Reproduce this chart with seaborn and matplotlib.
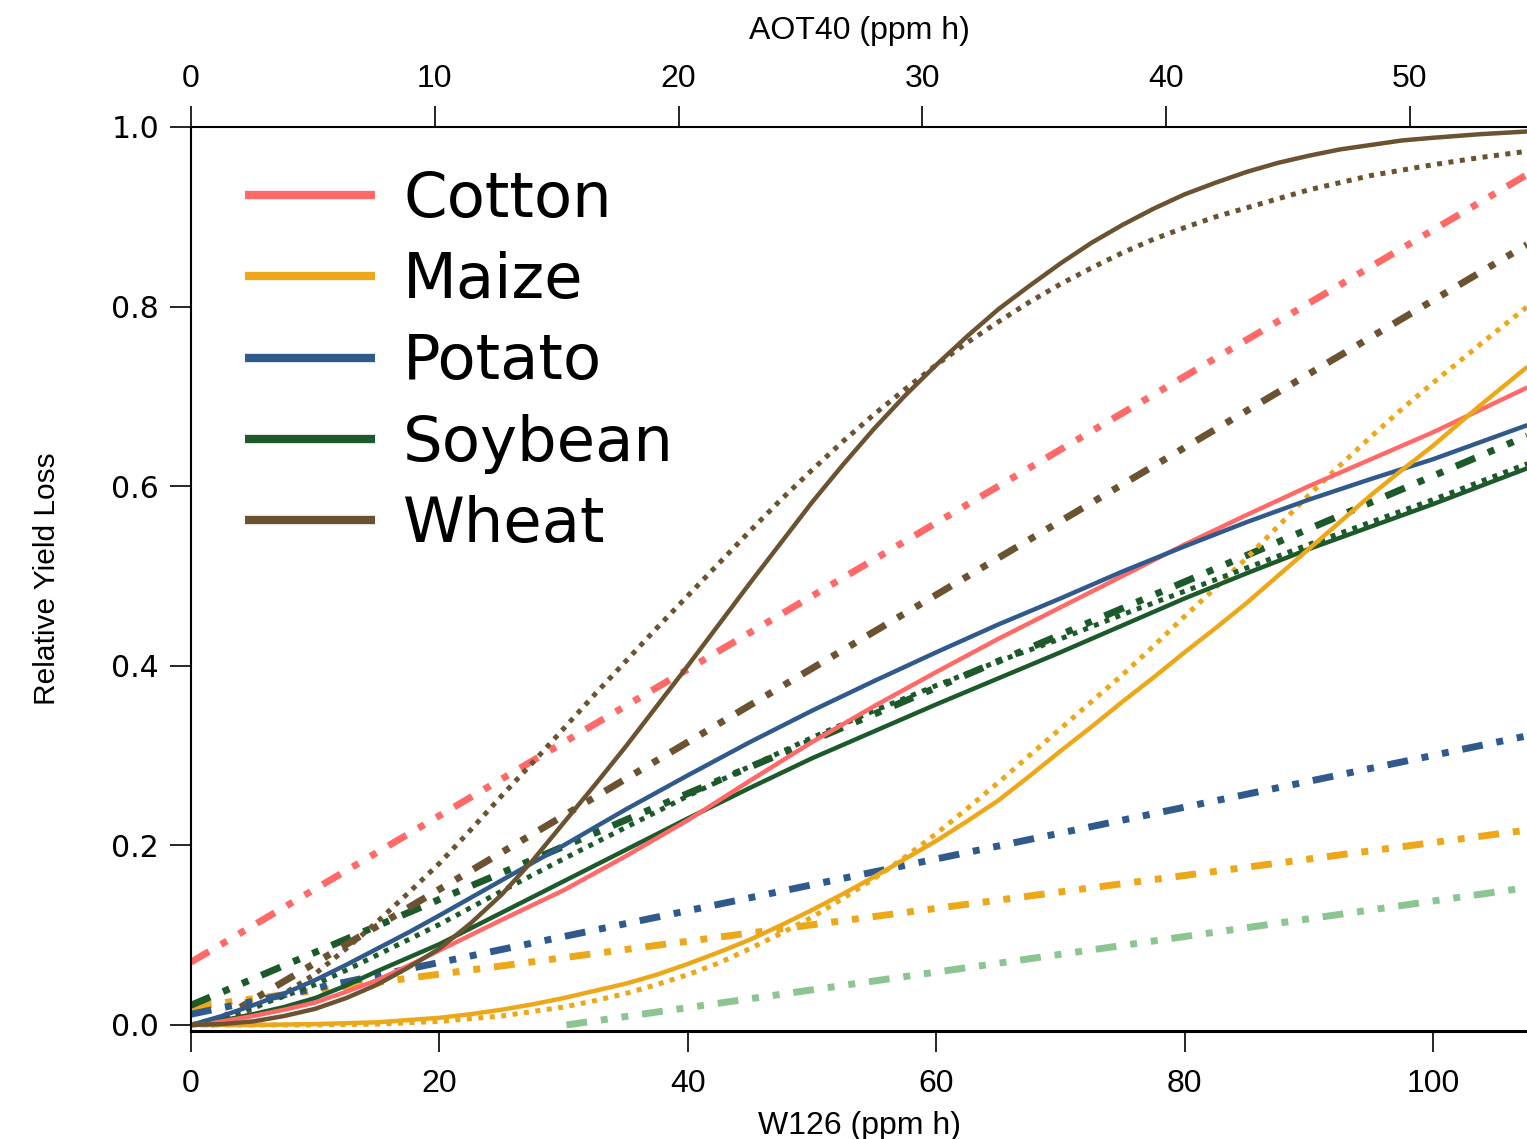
import matplotlib
matplotlib.use("Agg")
import matplotlib.pyplot as plt
from matplotlib.lines import Line2D
import seaborn as sns
import pandas as pd

sns.set_style("ticks")
plt.rcParams['font.family'] = ['DejaVu Sans']
for k in ["text.color", "axes.labelcolor", "xtick.color", "ytick.color", "axes.edgecolor"]:
    plt.rcParams[k] = "black"

# ---------------- data ----------------
crops = ["Cotton", "Maize", "Potato", "Soybean", "Wheat"]
colors = {"Cotton": "#FF6A69", "Maize": "#EDA81A", "Potato": "#2F5A8B",
          "Soybean": "#1D5A2B", "Wheat": "#6B5230", "Other": "#8DC592"}

# W126-based curves
wheat_w = [0, 2.5, 5, 7.5, 10, 12.5, 15, 17.5, 20, 22.5, 25, 27.5, 30, 32.5, 35, 37.5, 40, 42.5,
           45, 47.5, 50, 52.5, 55, 57.5, 60, 62.5, 65, 67.5, 70, 72.5, 75, 77.5, 80, 82.5, 85,
           87.5, 90, 92.5, 95, 97.5, 100, 103.8, 107.6]
wheat_solid = [0, 0.001, 0.004, 0.010, 0.018, 0.030, 0.045, 0.064, 0.085, 0.113, 0.145, 0.183,
               0.225, 0.267, 0.31, 0.355, 0.40, 0.446, 0.492, 0.537, 0.582, 0.624, 0.664, 0.701,
               0.735, 0.767, 0.797, 0.823, 0.848, 0.871, 0.891, 0.909, 0.925, 0.938, 0.95,
               0.96, 0.968, 0.975, 0.98, 0.985, 0.988, 0.992, 0.995]
wheat_dotted = [0, 0.005, 0.018, 0.035, 0.057, 0.085, 0.115, 0.147, 0.18, 0.217, 0.255, 0.292,
                0.33, 0.368, 0.405, 0.442, 0.478, 0.514, 0.55, 0.585, 0.618, 0.65, 0.68, 0.708,
                0.735, 0.76, 0.783, 0.805, 0.825, 0.843, 0.86, 0.875, 0.888, 0.9, 0.91, 0.92,
                0.93, 0.938, 0.946, 0.952, 0.958, 0.966, 0.973]

maize_w = [0, 5, 10, 15, 20, 22.5, 25, 27.5, 30, 32.5, 35, 37.5, 40, 42.5, 45, 47.5, 50, 52.5,
           55, 57.5, 60, 62.5, 65, 67.5, 70, 72.5, 75, 77.5, 80, 82.5, 85, 87.5, 90, 92.5, 95,
           97.5, 100, 103.8, 107.6]
maize_solid = [0, 0.0, 0.001, 0.003, 0.008, 0.012, 0.017, 0.023, 0.03, 0.038, 0.046, 0.056,
               0.068, 0.081, 0.095, 0.111, 0.128, 0.146, 0.165, 0.185, 0.205, 0.227, 0.25,
               0.277, 0.305, 0.332, 0.36, 0.387, 0.415, 0.442, 0.47, 0.5, 0.53, 0.56, 0.59,
               0.618, 0.645, 0.69, 0.733]
maize_dotted = [0, 0.0, 0.0, 0.001, 0.004, 0.007, 0.01, 0.015, 0.02, 0.027, 0.035, 0.045,
                0.056, 0.069, 0.085, 0.102, 0.12, 0.141, 0.163, 0.187, 0.213, 0.241, 0.27,
                0.3, 0.33, 0.36, 0.39, 0.422, 0.455, 0.487, 0.52, 0.555, 0.59, 0.623, 0.655,
                0.686, 0.715, 0.758, 0.80]

mid_w = [0, 2.5, 5, 7.5, 10, 12.5, 15, 17.5, 20, 25, 30, 35, 40, 45, 50, 55, 60, 65, 70, 75,
         80, 85, 90, 95, 100, 103.8, 107.6]
cotton_solid = [0, 0.004, 0.01, 0.017, 0.025, 0.037, 0.05, 0.066, 0.083, 0.117, 0.15, 0.188,
                0.228, 0.272, 0.315, 0.355, 0.393, 0.43, 0.465, 0.5, 0.535, 0.568, 0.6, 0.63,
                0.66, 0.685, 0.71]
potato_solid = [0, 0.01, 0.022, 0.035, 0.05, 0.067, 0.085, 0.103, 0.122, 0.161, 0.2, 0.24,
                0.278, 0.315, 0.35, 0.383, 0.415, 0.446, 0.475, 0.505, 0.533, 0.56, 0.585,
                0.608, 0.63, 0.649, 0.668]
soybean_solid = [0, 0.005, 0.012, 0.02, 0.03, 0.044, 0.06, 0.075, 0.09, 0.125, 0.16, 0.195,
                 0.23, 0.264, 0.297, 0.327, 0.357, 0.386, 0.415, 0.445, 0.475, 0.503, 0.53,
                 0.555, 0.58, 0.6, 0.62]
soybean_dotted = [0, 0.009, 0.02, 0.032, 0.045, 0.061, 0.078, 0.095, 0.112, 0.149, 0.185, 0.22,
                  0.255, 0.288, 0.32, 0.35, 0.378, 0.405, 0.43, 0.457, 0.483, 0.509, 0.535,
                  0.56, 0.585, 0.605, 0.625]

# AOT40-based lines (dash-dot-dot), x in AOT40 (ppm h)
cotton_aot_x, cotton_aot_y = [0, 54.8], [0.07, 0.947]
wheat_aot_x, wheat_aot_y = [0.8, 54.8], [0.0, 0.869]
soybean_aot_x, soybean_aot_y = [0, 54.8], [0.022, 0.656]
potato_aot_x, potato_aot_y = [0, 54.8], [0.012, 0.322]
maize_aot_x, maize_aot_y = [0, 54.8], [0.02, 0.217]
other_aot_x, other_aot_y = [15.4, 54.8], [0.0, 0.153]

# ---------------- figure ----------------
W, H = 1527, 1139
fig = plt.figure(figsize=(W / 100, H / 100), dpi=100)
ax = fig.add_axes([191 / W, (H - 1031) / H, 1 - 191 / W, (1031 - 127) / H])
ax2 = ax.twiny()

solid_kw = dict(lw=3.2, linestyle="-", solid_capstyle="butt", solid_joinstyle="round")
dot_kw = dict(lw=3.6, linestyle=(0, (1, 1.3)), dash_capstyle="butt")
dd_kw = dict(lw=5.0, linestyle=(0, (3, 2, 1, 2, 1, 2)), dash_capstyle="butt")


def draw(axis, x, y, color, kw):
    df = pd.DataFrame({"x": x, "y": y})
    sns.lineplot(data=df, x="x", y="y", ax=axis, color=color, legend=False,
                 estimator=None, sort=False, **kw)


# AOT40 lines on the top axis
draw(ax2, other_aot_x, other_aot_y, colors["Other"], dd_kw)
draw(ax2, maize_aot_x, maize_aot_y, colors["Maize"], dd_kw)
draw(ax2, potato_aot_x, potato_aot_y, colors["Potato"], dd_kw)
draw(ax2, soybean_aot_x, soybean_aot_y, colors["Soybean"], dd_kw)
draw(ax2, wheat_aot_x, wheat_aot_y, colors["Wheat"], dd_kw)
draw(ax2, cotton_aot_x, cotton_aot_y, colors["Cotton"], dd_kw)

# W126 curves
draw(ax, wheat_w, wheat_dotted, colors["Wheat"], dot_kw)
draw(ax, maize_w, maize_dotted, colors["Maize"], dot_kw)
draw(ax, mid_w, soybean_dotted, colors["Soybean"], dot_kw)
draw(ax, mid_w, soybean_solid, colors["Soybean"], solid_kw)
draw(ax, mid_w, cotton_solid, colors["Cotton"], solid_kw)
draw(ax, mid_w, potato_solid, colors["Potato"], solid_kw)
draw(ax, maize_w, maize_solid, colors["Maize"], solid_kw)
draw(ax, wheat_w, wheat_solid, colors["Wheat"], solid_kw)

ax.set_zorder(2)
ax.patch.set_visible(False)
ax2.set_zorder(1)

# limits
ax.set_xlim(0, 107.57)
ax.set_ylim(-0.0067, 1.0)
ax2.set_xlim(0, 54.80)

lab_font = dict(family="Liberation Sans", size=23)
xt = [0, 20, 40, 60, 80, 100]
ax.set_xticks(xt)
ax.set_xticklabels([str(v) for v in xt], fontfamily="Liberation Sans", fontsize=23)
yt = [0, 0.2, 0.4, 0.6, 0.8, 1.0]
ax.set_yticks(yt)
ax.set_yticklabels([f"{v:.1f}" for v in yt], fontfamily="DejaVu Sans", fontsize=21.5)
tt = [0, 10, 20, 30, 40, 50]
ax2.set_xticks(tt)
ax2.set_xticklabels([str(v) for v in tt], fontfamily="Liberation Sans", fontsize=23)

ax.set_xlabel("W126 (ppm h)", fontdict=lab_font, labelpad=9)
ax2.set_xlabel("AOT40 (ppm h)", fontdict=lab_font, labelpad=18)
ax.set_ylabel("Relative Yield Loss", family="Liberation Sans", fontsize=21.5, labelpad=36)

ax.tick_params(axis="x", direction="out", length=15, width=1.2, pad=12)
ax.tick_params(axis="y", direction="out", length=15, width=1.2, pad=8)
ax2.tick_params(axis="x", direction="out", length=15, width=1.2, pad=9)

for a in (ax, ax2):
    a.spines["right"].set_visible(False)
    for s in a.spines.values():
        s.set_color("black")
        s.set_linewidth(1.5)
ax.spines["top"].set_visible(False)
ax2.spines["bottom"].set_visible(False)
ax2.spines["left"].set_visible(False)
ax.spines["bottom"].set_linewidth(2.2)

# legend
handles = [Line2D([0], [0], color=colors[c], lw=6, solid_capstyle="butt") for c in crops]
leg = ax.legend(handles, crops, loc="upper left", bbox_to_anchor=(245 / W, 1 - 170 / H),
                bbox_transform=fig.transFigure, frameon=False,
                handlelength=2.08, handletextpad=0.45, labelspacing=0.34,
                borderpad=0, borderaxespad=0, prop={"family": "DejaVu Sans", "size": 45})

fig.savefig("out.png", dpi=100)
